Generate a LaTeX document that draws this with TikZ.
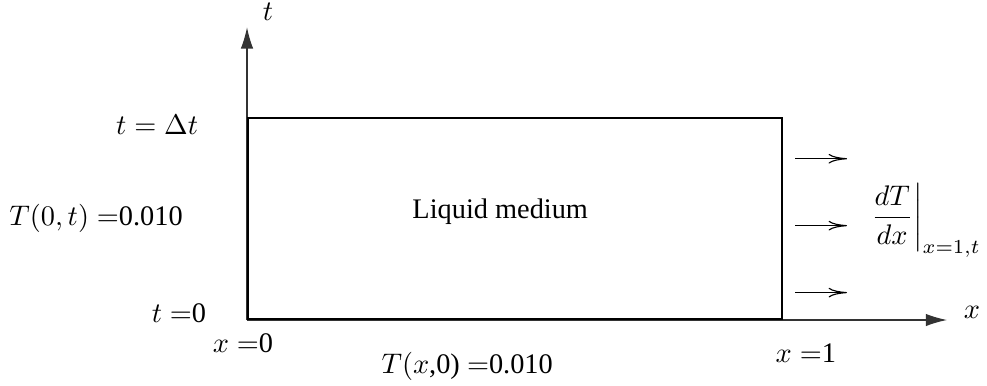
\documentclass[tikz,border=0pt]{standalone}
\usepackage[no-math]{fontspec}
\setmainfont{Liberation Serif}
\usepackage{amsmath}
\usetikzlibrary{arrows.meta, positioning, calc}

\begin{document}
\begin{tikzpicture}[
    axis/.style={line width=0.4pt, draw=black!80, -{Latex[length=7.5pt,width=4.4pt]}},
    medium/.style={rectangle, draw=black, line width=0.8pt, minimum width=6.62cm, minimum height=2.49cm, anchor=south west, inner sep=0pt},
    flux/.style={line width=0.4pt, -{To[length=6.5pt,width=3.4pt]}},
    lbl/.style={inner sep=0pt}
]
\useasboundingbox (-3.063,-0.806) rectangle (9.176,3.968);

\coordinate (origin) at (0,0);
\coordinate (ttip) at (0,3.63);
\coordinate (xtip) at (8.68,0);
\draw[axis] (origin) -- (ttip);
\draw[axis] (origin) -- (xtip);
\node[medium] (box) at (origin) {};

\node[lbl] (tlabel) at (0.26,3.82) {$t$};
\node[lbl] (xlabel) at (8.99,0.10) {$x$};

\node[lbl, anchor=east] (tdelta) at (-0.6,2.42) {$t = \Delta t$};
\node[lbl, anchor=east] (leftbc) at (-0.79,1.26) {$T(0,t) =$0.010};
\node[lbl, anchor=east] (tzero) at (-0.50,0.09) {$t =$0};
\node[lbl] (xzero) at (-0.05,-0.285) {$x =$0};
\node[lbl] (xone) at (6.93,-0.41) {$x =$1};
\node[lbl] (initial) at (2.73,-0.58) {$T(x$,0) $=$0.010};
\node (name) at (3.14,1.34) {Liquid medium};

% heat flux out of the right side
\foreach \i/\y in {1/2.00, 2/1.17, 3/0.34} {
    \coordinate (f\i a) at (6.80,\y);
    \coordinate (f\i b) at (7.44,\y);
    \draw[flux] (f\i a) -- (f\i b);
}
\node[lbl, anchor=base west] (rightbc) at (7.69,1.18) {$\left.\dfrac{dT}{dx}\right|_{x=1,t}$};
\end{tikzpicture}
\end{document}
